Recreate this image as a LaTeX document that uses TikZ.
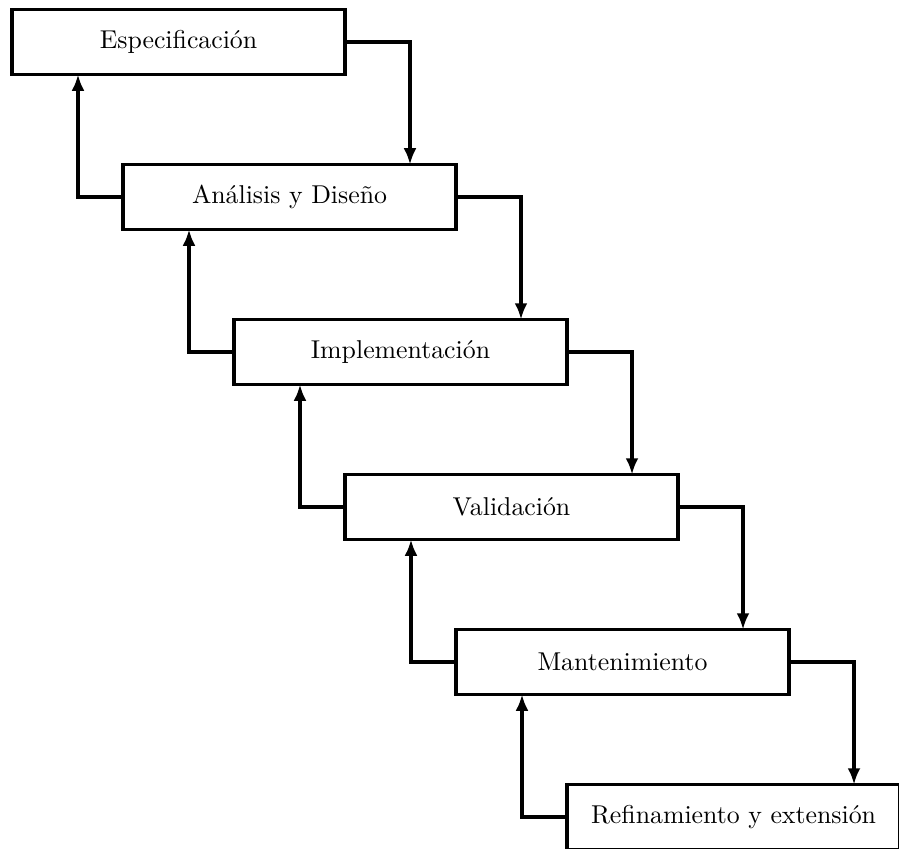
\documentclass[tikz,border=0pt]{standalone}
\usetikzlibrary{arrows.meta}
\begin{document}
\def\u{0.3876pt}
\begin{tikzpicture}[x=\u,y=-\u,
  phase/.style={draw,line width=1.2pt,minimum width=333*\u,minimum height=65*\u,inner sep=2pt,outer sep=0pt,font=\normalsize},
  conn/.style={line width=1.2pt,-{Latex[length=6.3pt,width=5pt]}}]
\useasboundingbox (0,-0.5) rectangle (899,847.5);
% the six phases, stepped down to the right
\node[phase] (s1) at (178.5,41.5) {Especificación};
\node[phase] (s2) at (289.5,196.5) {Análisis y Diseño};
\node[phase] (s3) at (400.5,351.5) {Implementación};
\node[phase] (s4) at (511.5,506.5) {Validación};
\node[phase] (s5) at (622.5,661.5) {Mantenimiento};
\node[phase] (s6) at (733.5,816.5) {Refinamiento y extensión};
% forward flow on the right, feedback on the left
\foreach \a/\b in {s1/s2,s2/s3,s3/s4,s4/s5,s5/s6}{
  \draw[conn] (\a.east) -| ([xshift=-46*\u]\b.north east);
  \draw[conn] (\b.west) -| ([xshift=66*\u]\a.south west);
}
\end{tikzpicture}
\end{document}
